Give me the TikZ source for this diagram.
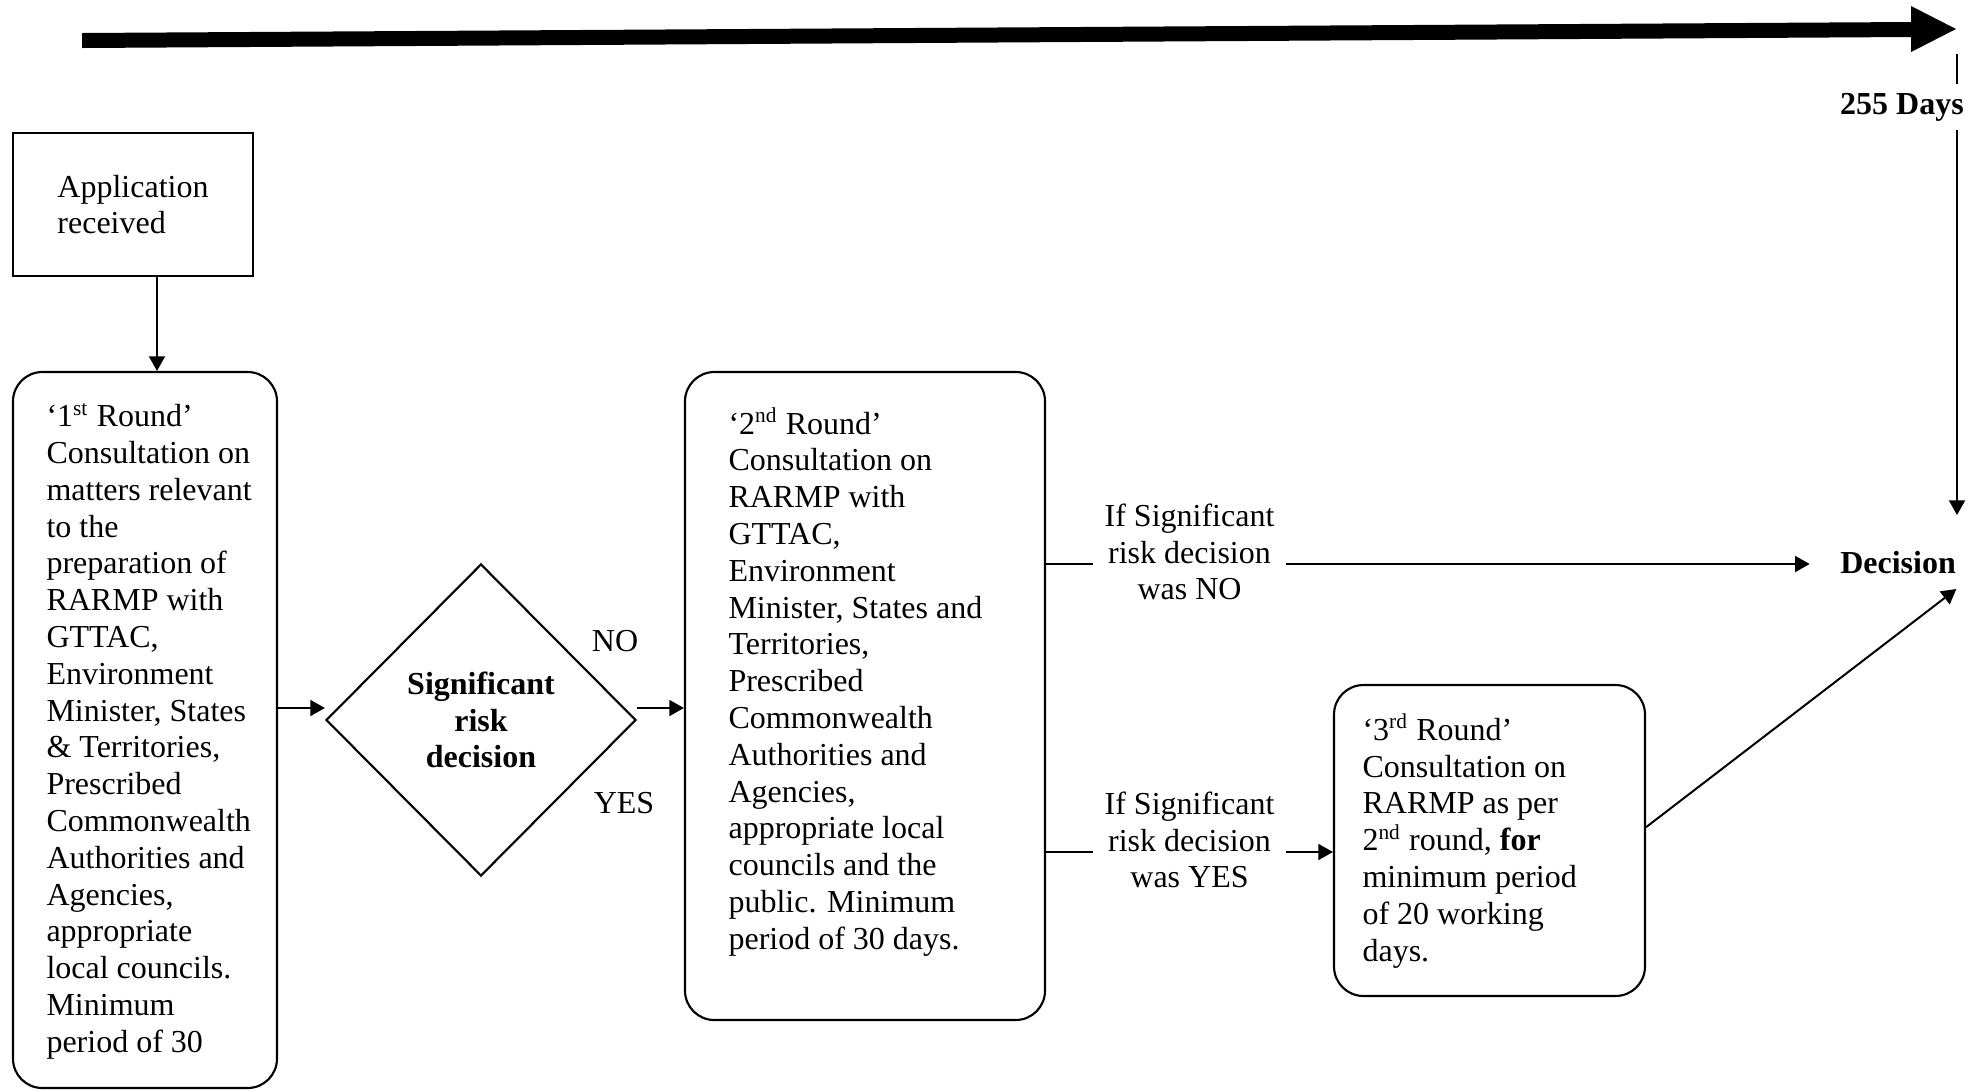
\documentclass[tikz,border=0pt]{standalone}
\usepackage{fontspec}
\setmainfont{Liberation Serif}
\usetikzlibrary{arrows.meta,shapes.geometric}
\begin{document}
\begin{tikzpicture}[x=0.375pt,y=-0.375pt,
  every node/.style={font=\fontsize{12}{13.8}\selectfont},
  arr/.style={line width=0.75pt,-{Triangle[length=5.5pt,width=6pt]}},
  rbox/.style={draw,line width=0.8pt,rounded corners=11pt,inner sep=0pt},
  sqbox/.style={draw,line width=0.8pt,inner sep=0pt,align=left},
  txt/.style={align=left,inner sep=0pt},
  lbl/.style={align=center,fill=white,inner xsep=4.5pt,inner ysep=0pt},
  bold/.style={font=\fontsize{12}{13.8}\selectfont\bfseries}
]
\useasboundingbox (0,0) rectangle (1984,1091);

% timeline arrow across the top
\fill (82,33) -- (1911,22) -- (1911,6) -- (1956,29) -- (1911,52) -- (1911,37) -- (82,48) -- cycle;

% boxes
\node[sqbox,minimum width=90pt,minimum height=53.6pt] (app) at (133,204.5) {Application\\received};

\node[rbox,minimum width=99pt,minimum height=268.5pt] (r1) at (145,730) {};
\node[txt,anchor=west] (r1t) at (46,731) {‘1\textsuperscript{st} Round’\\
Consultation on\\matters relevant\\to the\\preparation of\\RARMP with\\GTTAC,\\
Environment\\Minister, States\\\& Territories,\\Prescribed\\Commonwealth\\
Authorities and\\Agencies,\\appropriate\\local councils.\\Minimum\\period of 30};

\node[diamond,draw,line width=0.8pt,minimum width=116.25pt,minimum height=117pt,
  inner sep=0pt,align=center,bold] (dia) at (481,720) {Significant\\risk\\decision};

\node[rbox,minimum width=135pt,minimum height=243pt] (r2) at (865,696) {};
\node[txt,anchor=west] (r2t) at (728,682) {‘2\textsuperscript{nd} Round’\\
Consultation on\\RARMP with\\GTTAC,\\Environment\\Minister, States and\\
Territories,\\Prescribed\\Commonwealth\\Authorities and\\Agencies,\\
appropriate local\\councils and the\\public. Minimum\\period of 30 days.};

\node[rbox,minimum width=116.6pt,minimum height=116.6pt] (r3) at (1489.5,840.5) {};
\node[txt,anchor=west] (r3t) at (1362,841) {‘3\textsuperscript{rd} Round’\\
Consultation on\\RARMP as per\\2\textsuperscript{nd} round, \textbf{for}\\
minimum period\\of 20 working\\days.};

\node[bold,inner sep=0pt] (dec) at (1898,563) {Decision};

% branch labels
\node (no) at (615,641) {NO};
\node (yes) at (624,803) {YES};

% connectors
\draw[arr] ([xshift=9pt]app.south) -- ([xshift=4.5pt]r1.north);
\draw[arr] ([yshift=4.5pt]dia.west -| r1.east) -- ([yshift=4.5pt]dia.west);
\draw[arr] ([yshift=4.5pt]dia.east) -- ([yshift=4.5pt]dia.east -| r2.west);

\draw[arr,shorten >=11.25pt] ([yshift=49.5pt]r2.east) -- ([yshift=49.5pt]r2.east -| dec.west);
\node[lbl] (qno) at (1189.5,552) {If Significant\\risk decision\\was NO};

\draw[arr] ([yshift=-58.5pt]r2.east) -- ([yshift=-58.5pt]r2.east -| r3.west);
\node[lbl] (qyes) at (1189.5,840) {If Significant\\risk decision\\was YES};

\draw[arr] ([yshift=5pt]r3.east) -- ([yshift=-9.75pt]dec.east);

% time limit marker
\coordinate (vt) at (1957,54);
\coordinate (vb) at (1957,515);
\draw[arr] (vt) -- (vb);
\node[bold,fill=white,inner xsep=1pt,inner ysep=3.5pt] (days) at (1902,107) {255 Days};
\end{tikzpicture}
\end{document}
